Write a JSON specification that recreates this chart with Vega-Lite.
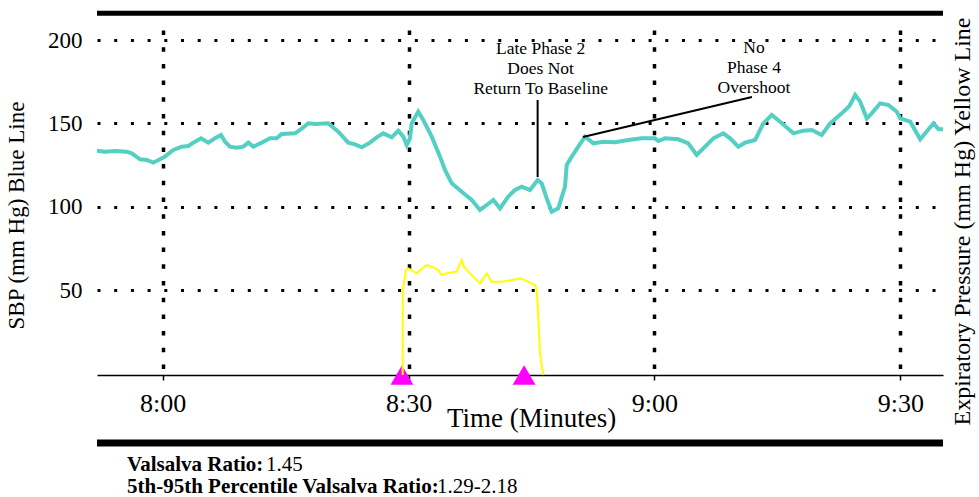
{
  "$schema": "https://vega.github.io/schema/vega-lite/v6.json",
  "width": 846,
  "height": 345,
  "autosize": {"type": "none"},
  "padding": {"left": 97, "top": 30, "right": 36, "bottom": 122},
  "background": "white",
  "datasets": {
    "bp": [
      {"t":472.0,"v":133.6},{"t":472.98,"v":133.0},{"t":474.2,"v":133.4},{"t":475.62,"v":133.0},{"t":476.23,"v":132.0},
      {"t":477.25,"v":128.4},{"t":478.06,"v":128.0},{"t":478.87,"v":126.4},{"t":479.68,"v":128.4},{"t":480.29,"v":130.0},
      {"t":481.31,"v":134.0},{"t":482.33,"v":136.0},{"t":483.14,"v":136.4},{"t":483.95,"v":139.0},{"t":484.69,"v":141.0},
      {"t":485.58,"v":138.4},{"t":486.39,"v":141.0},{"t":487.13,"v":143.0},{"t":487.61,"v":139.0},{"t":488.22,"v":136.0},
      {"t":489.04,"v":135.4},{"t":489.85,"v":136.0},{"t":490.46,"v":138.4},{"t":491.07,"v":136.0},{"t":492.09,"v":138.4},
      {"t":493.1,"v":141.0},{"t":493.92,"v":141.0},{"t":494.53,"v":143.6},{"t":496.15,"v":144.0},{"t":496.76,"v":146.0},
      {"t":497.77,"v":150.0},{"t":498.59,"v":149.6},{"t":500.21,"v":150.0},{"t":501.43,"v":145.0},{"t":502.65,"v":138.4},
      {"t":503.47,"v":137.4},{"t":504.29,"v":135.6},{"t":505.3,"v":138.4},{"t":506.12,"v":141.6},{"t":506.92,"v":144.0},
      {"t":507.95,"v":141.6},{"t":508.75,"v":145.6},{"t":509.36,"v":142.0},{"t":509.78,"v":137.0},{"t":510.18,"v":141.0},
      {"t":510.39,"v":150.0},{"t":511.19,"v":157.0},{"t":511.8,"v":152.0},{"t":512.83,"v":142.0},{"t":513.84,"v":130.0},
      {"t":514.45,"v":122.0},{"t":515.27,"v":114.0},{"t":516.49,"v":109.0},{"t":517.71,"v":104.0},{"t":518.72,"v":98.0},
      {"t":519.54,"v":101.0},{"t":520.35,"v":104.0},{"t":521.16,"v":99.0},{"t":522.17,"v":106.0},{"t":522.99,"v":110.0},
      {"t":523.81,"v":112.0},{"t":524.82,"v":110.0},{"t":525.76,"v":116.0},{"t":526.25,"v":114.0},{"t":526.86,"v":105.0},
      {"t":527.47,"v":97.0},{"t":528.27,"v":99.0},{"t":529.09,"v":112.0},{"t":529.3,"v":125.0},{"t":529.91,"v":130.0},
      {"t":530.71,"v":136.0},{"t":531.53,"v":142.0},{"t":532.54,"v":138.0},{"t":533.76,"v":139.0},{"t":535.19,"v":138.6},
      {"t":536.81,"v":140.0},{"t":538.45,"v":141.0},{"t":540.07,"v":141.0},{"t":540.47,"v":139.4},{"t":541.29,"v":141.0},
      {"t":542.91,"v":140.4},{"t":544.13,"v":138.0},{"t":545.15,"v":131.0},{"t":545.97,"v":135.0},{"t":547.19,"v":141.0},
      {"t":548.41,"v":144.0},{"t":549.23,"v":141.0},{"t":550.24,"v":136.0},{"t":551.06,"v":138.4},{"t":552.28,"v":140.0},
      {"t":553.29,"v":150.0},{"t":554.31,"v":155.0},{"t":555.33,"v":151.0},{"t":556.96,"v":144.0},{"t":558.18,"v":145.6},
      {"t":559.19,"v":146.0},{"t":560.41,"v":143.0},{"t":561.44,"v":150.0},{"t":562.85,"v":156.0},{"t":563.79,"v":160.4},
      {"t":564.49,"v":167.0},{"t":565.1,"v":163.0},{"t":565.9,"v":153.0},{"t":566.51,"v":156.0},{"t":567.54,"v":162.0},
      {"t":568.55,"v":161.0},{"t":569.57,"v":157.0},{"t":569.98,"v":153.0},{"t":571.2,"v":151.0},{"t":572.42,"v":140.4},
      {"t":574.04,"v":150.0},{"t":574.66,"v":146.4},{"t":575.2,"v":146.4}
    ],
    "exp": [
      {"t":509.29,"v":-1},{"t":509.3,"v":50},{"t":509.69,"v":62},{"t":509.97,"v":63},{"t":511.0,"v":60},
      {"t":511.4,"v":62},{"t":512.22,"v":65},{"t":512.83,"v":64},{"t":513.64,"v":62},{"t":514.05,"v":59},
      {"t":514.66,"v":60},{"t":515.88,"v":61},{"t":516.49,"v":68},{"t":516.77,"v":64},{"t":517.5,"v":60},
      {"t":518.72,"v":54},{"t":519.54,"v":60},{"t":520.15,"v":55},{"t":521.37,"v":55},{"t":522.59,"v":56},
      {"t":523.6,"v":57},{"t":524.61,"v":55},{"t":525.43,"v":53},{"t":525.64,"v":50},{"t":525.83,"v":34},
      {"t":526.04,"v":12},{"t":526.44,"v":-1}
    ],
    "notes": [
      {"t":526.12,"v":194.6,"text":"Late Phase 2"},
      {"t":526.12,"v":182.6,"text":"Does Not"},
      {"t":526.12,"v":170.6,"text":"Return To Baseline"},
      {"t":552.14,"v":195.2,"text":"No"},
      {"t":552.14,"v":183.2,"text":"Phase 4"},
      {"t":552.14,"v":171.2,"text":"Overshoot"}
    ],
    "pointers": [
      {"t":525.75,"t2":525.75,"v":164.0,"v2":117.8},
      {"t":531.28,"t2":551.9,"v":141.8,"v2":165.8}
    ],
    "markers": [
      {"t":509.2,"v":-1},
      {"t":524.1,"v":-1}
    ],
    "bars": [
      {"bar":"top","t":472,"t2":575.2,"v":216.0},
      {"bar":"bottom","t":472,"t2":575.2,"v":-41.8}
    ],
    "footer": [
      {"part":"label","t":475.66,"v":-58.6,"text":"Valsalva Ratio:"},
      {"part":"value","t":492.61,"v":-58.6,"text":"1.45"},
      {"part":"label","t":475.66,"v":-71.8,"text":"5th-95th Percentile Valsalva Ratio:"},
      {"part":"value","t":513.47,"v":-71.8,"text":"1.29-2.18"}
    ]
  },
  "layer": [
    {
      "layer": [
        {
          "data": {"name": "bp"},
          "mark": {"type": "line", "color": "#54CFC3", "strokeWidth": 4},
          "encoding": {
            "x": {
              "field": "t", "type": "quantitative",
              "scale": {"domain": [472, 575.2], "nice": false, "zero": false},
              "axis": {
                "values": [480, 510, 540, 570],
                "labelExpr": "floor(datum.value/60) + ':' + (datum.value % 60 < 10 ? '0' : '') + (datum.value % 60)",
                "domain": true, "domainColor": "black", "domainWidth": 1.5,
                "ticks": true, "tickColor": "black", "tickSize": 5, "tickWidth": 1.5,
                "labelPadding": 10, "labelFontSize": 26, "labelFlush": false,
                "grid": true, "gridColor": "black", "gridDash": [4.5, 12.2], "gridWidth": 3.5, "gridOpacity": 1,
                "title": "Time (Minutes)", "titleFontSize": 27, "titleX": 434, "titleY": 51.7,
                "titleAlign": "center", "titleBaseline": "alphabetic"
              }
            },
            "y": {
              "field": "v", "type": "quantitative",
              "scale": {"domain": [-1, 206], "nice": false, "zero": false},
              "axis": {
                "orient": "left",
                "title": "SBP (mm Hg) Blue Line",
                "values": [50, 100, 150, 200],
                "domain": false, "ticks": false, "tickSize": 0,
                "labelPadding": 15, "labelFontSize": 23,
                "grid": true, "gridColor": "black", "gridDash": [3, 13.7], "gridWidth": 3, "gridOpacity": 1,
                "titleAngle": 270, "titleX": -74, "titleY": 185,
                "titleAlign": "center", "titleBaseline": "alphabetic", "titleFontSize": 23
              }
            }
          }
        },
        {
          "data": {"name": "bars"},
          "transform": [{"filter": "datum.bar === 'top'"}],
          "mark": {"type": "rule", "color": "black", "strokeWidth": 5},
          "encoding": {
            "x": {"field": "t", "type": "quantitative"},
            "x2": {"field": "t2"},
            "y": {"field": "v", "type": "quantitative"}
          }
        },
        {
          "data": {"name": "bars"},
          "transform": [{"filter": "datum.bar === 'bottom'"}],
          "mark": {"type": "rule", "color": "black", "strokeWidth": 7},
          "encoding": {
            "x": {"field": "t", "type": "quantitative"},
            "x2": {"field": "t2"},
            "y": {"field": "v", "type": "quantitative"}
          }
        },
        {
          "data": {"name": "pointers"},
          "mark": {"type": "rule", "color": "black", "strokeWidth": 2},
          "encoding": {
            "x": {"field": "t", "type": "quantitative"},
            "x2": {"field": "t2"},
            "y": {"field": "v", "type": "quantitative"},
            "y2": {"field": "v2"}
          }
        },
        {
          "data": {"name": "notes"},
          "mark": {"type": "text", "font": "Liberation Serif", "fontSize": 17.5, "align": "center", "baseline": "middle", "color": "black"},
          "encoding": {
            "x": {"field": "t", "type": "quantitative"},
            "y": {"field": "v", "type": "quantitative"},
            "text": {"field": "text"}
          }
        },
        {
          "data": {"name": "markers"},
          "mark": {"type": "point", "shape": "triangle-up", "filled": true, "color": "#FF00FF", "opacity": 1, "size": 520},
          "encoding": {
            "x": {"field": "t", "type": "quantitative"},
            "y": {"field": "v", "type": "quantitative"}
          }
        },
        {
          "data": {"name": "footer"},
          "transform": [{"filter": "datum.part === 'label'"}],
          "mark": {"type": "text", "font": "Liberation Serif", "fontSize": 21, "fontWeight": "bold", "align": "left", "baseline": "alphabetic", "color": "black"},
          "encoding": {
            "x": {"field": "t", "type": "quantitative"},
            "y": {"field": "v", "type": "quantitative"},
            "text": {"field": "text"}
          }
        },
        {
          "data": {"name": "footer"},
          "transform": [{"filter": "datum.part === 'value'"}],
          "mark": {"type": "text", "font": "Liberation Serif", "fontSize": 21, "fontWeight": "normal", "align": "left", "baseline": "alphabetic", "color": "black"},
          "encoding": {
            "x": {"field": "t", "type": "quantitative"},
            "y": {"field": "v", "type": "quantitative"},
            "text": {"field": "text"}
          }
        }
      ]
    },
    {
      "data": {"name": "exp"},
      "mark": {"type": "line", "color": "#FFFF00", "strokeWidth": 2},
      "encoding": {
        "x": {"field": "t", "type": "quantitative", "scale": {"domain": [472, 575.2], "nice": false, "zero": false}},
        "y": {
          "field": "v", "type": "quantitative",
          "scale": {"domain": [-1, 206], "nice": false, "zero": false},
          "axis": {
            "orient": "right",
            "title": "Expiratory Pressure (mm Hg) Yellow Line",
            "labels": false, "ticks": false, "domain": false, "grid": false,
            "titleAngle": 270, "titleX": 26, "titleY": 191,
            "titleAlign": "center", "titleBaseline": "alphabetic", "titleFontSize": 24
          }
        }
      }
    }
  ],
  "resolve": {"scale": {"y": "independent"}, "axis": {"y": "independent"}},
  "config": {
    "font": "Liberation Serif",
    "view": {"stroke": null},
    "axis": {
      "labelColor": "black", "titleColor": "black",
      "labelFont": "Liberation Serif", "titleFont": "Liberation Serif",
      "titleFontWeight": "normal"
    }
  }
}
